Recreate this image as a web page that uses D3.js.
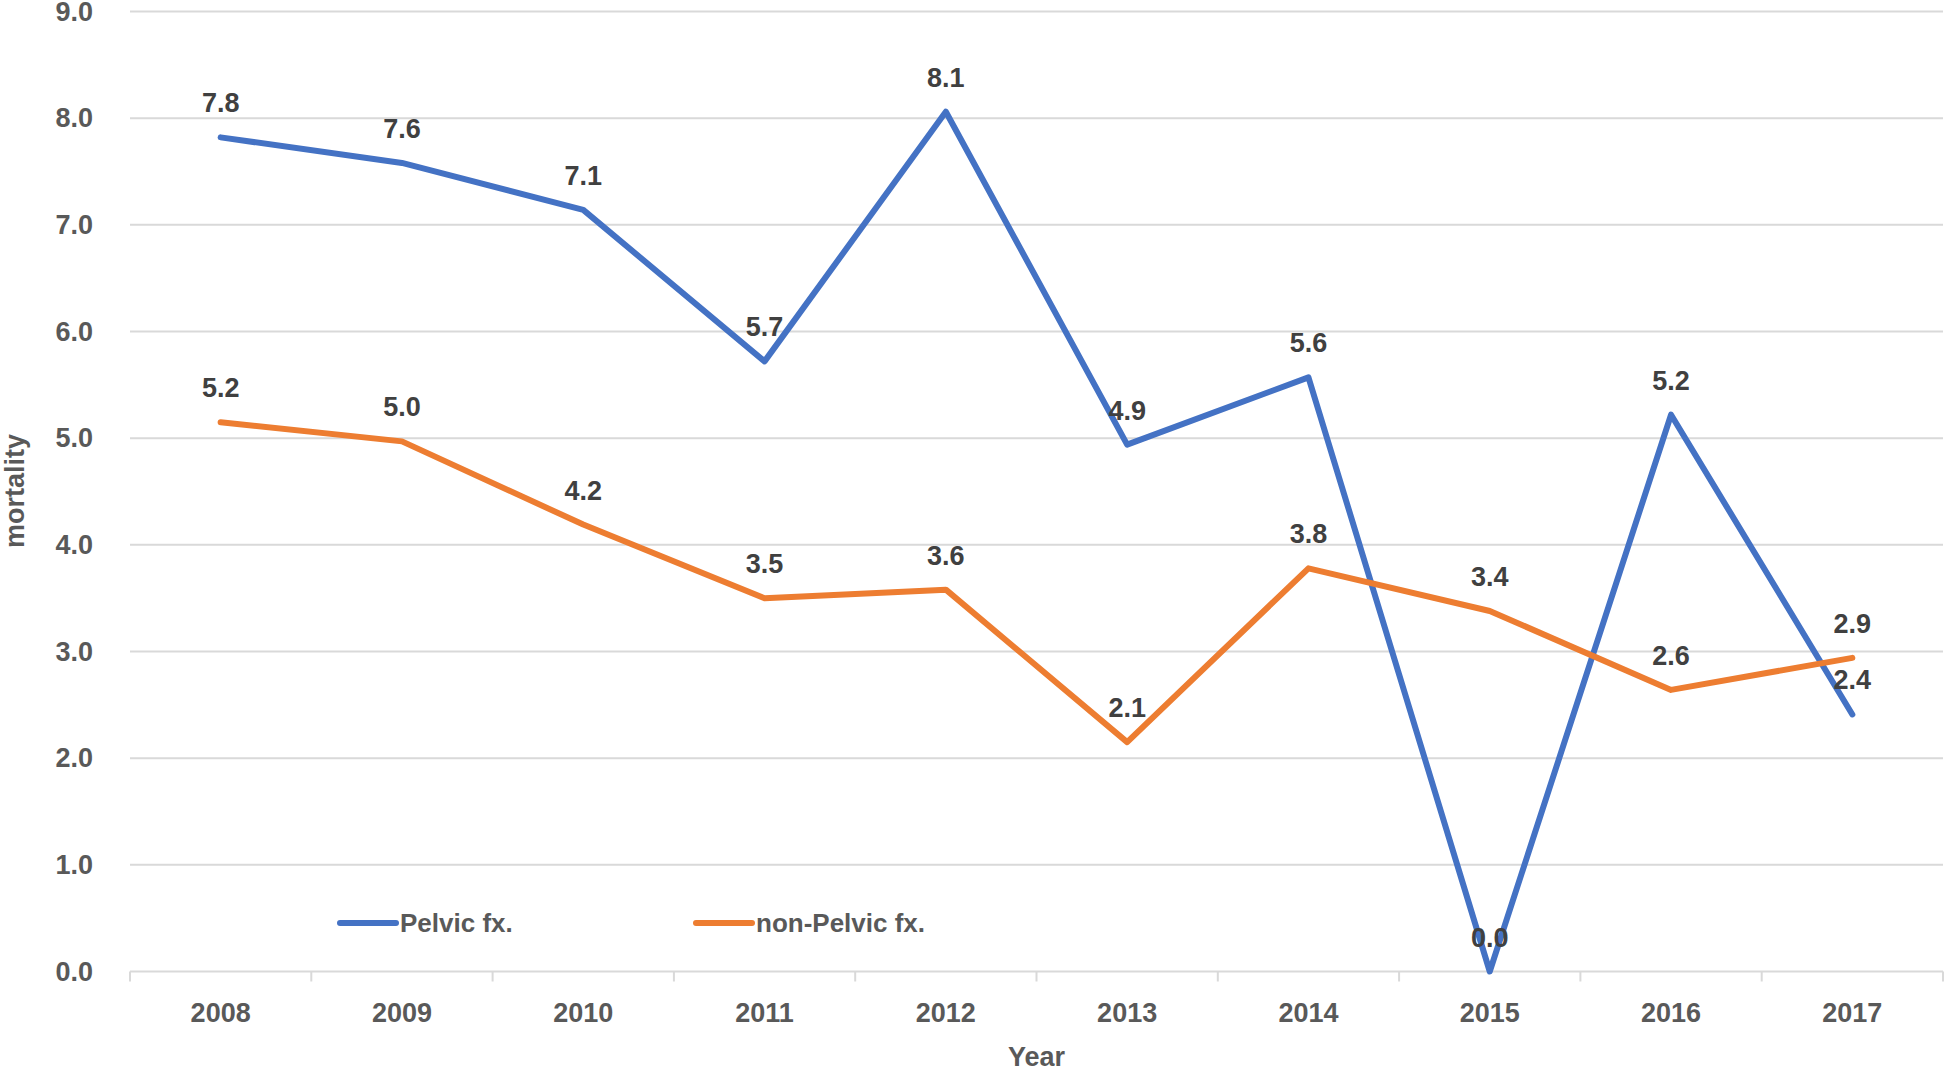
<!DOCTYPE html>
<html>
<head>
<meta charset="utf-8">
<script src="https://cdn.jsdelivr.net/npm/d3@7"></script>
<style>
  html, body { margin: 0; padding: 0; background: #fff; }
  svg { display: block; }
  text { font-family: "Liberation Sans", Arial, sans-serif; font-weight: bold; }
</style>
</head>
<body>
<script>
const years = ["2008","2009","2010","2011","2012","2013","2014","2015","2016","2017"];
const pelvic = [7.82, 7.58, 7.14, 5.72, 8.06, 4.94, 5.57, 0.0, 5.22, 2.41];
const nonPelvic = [5.15, 4.97, 4.19, 3.50, 3.58, 2.15, 3.78, 3.38, 2.64, 2.94];
const yTicks = [0,1,2,3,4,5,6,7,8,9];
const seriesNames = ["Pelvic fx.", "non-Pelvic fx."];
const seriesColors = ["#4472C4", "#ED7D31"];

(function () {
const W = 1945, H = 1068;
const mLeft = 130, mRight = 1943, mTop = 11.5, mBottom = 971.5;

const svg = d3.select("body").append("svg").attr("width", W).attr("height", H);

const x = d3.scaleBand().domain(years).range([mLeft, mRight]).padding(0);
const y = d3.scaleLinear().domain([0, 9]).range([mBottom, mTop]);

// gridlines
svg.append("g").selectAll("line").data(yTicks).join("line")
  .attr("x1", mLeft).attr("x2", mRight)
  .attr("y1", d => y(d)).attr("y2", d => y(d))
  .attr("stroke", "#d9d9d9").attr("stroke-width", 2);

// y tick labels
svg.append("g").selectAll("text").data(yTicks).join("text")
  .attr("x", 93).attr("y", d => y(d))
  .attr("text-anchor", "end").attr("dominant-baseline", "central")
  .attr("font-size", 27).attr("fill", "#595959")
  .text(d => d.toFixed(1));

// x axis tick marks at band boundaries
const bounds = years.map(d => x(d)).concat([x(years[years.length-1]) + x.bandwidth()]);
svg.append("g").selectAll("line").data(bounds).join("line")
  .attr("x1", d => d).attr("x2", d => d)
  .attr("y1", mBottom).attr("y2", mBottom + 10)
  .attr("stroke", "#d9d9d9").attr("stroke-width", 2);

// x tick labels
svg.append("g").selectAll("text").data(years).join("text")
  .attr("x", d => x(d) + x.bandwidth()/2).attr("y", 1022)
  .attr("text-anchor", "middle")
  .attr("font-size", 27).attr("fill", "#595959")
  .text(d => d);

// axis titles
svg.append("text").attr("x", (mLeft+mRight)/2).attr("y", 1066)
  .attr("text-anchor", "middle").attr("font-size", 27).attr("fill", "#595959")
  .text("Year");
svg.append("text")
  .attr("transform", `translate(24,${491}) rotate(-90)`)
  .attr("text-anchor", "middle").attr("font-size", 27).attr("fill", "#595959")
  .text("mortality");

const cx = d => x(d) + x.bandwidth()/2;
const line = d3.line().x(d => cx(d.year)).y(d => y(d.v));

const series = [pelvic, nonPelvic].map((vals, i) => ({
  name: seriesNames[i], color: seriesColors[i],
  pts: years.map((yr, j) => ({year: yr, v: vals[j]}))
}));

series.forEach(s => {
  svg.append("path").datum(s.pts)
    .attr("d", line).attr("fill", "none")
    .attr("stroke", s.color).attr("stroke-width", 6)
    .attr("stroke-linecap", "round").attr("stroke-linejoin", "round");
});

// data labels
series.forEach(s => {
  svg.append("g").selectAll("text").data(s.pts).join("text")
    .attr("x", d => cx(d.year)).attr("y", d => y(d.v) - 25)
    .attr("text-anchor", "middle").attr("font-size", 27).attr("fill", "#404040")
    .text(d => d.v.toFixed(1));
});

// legend
const legendPos = [340, 696];
series.forEach((s, i) => {
  const g = svg.append("g");
  g.append("line").attr("x1", legendPos[i]).attr("x2", legendPos[i] + 56)
    .attr("y1", 923).attr("y2", 923)
    .attr("stroke", s.color).attr("stroke-width", 6).attr("stroke-linecap", "round");
  g.append("text").attr("x", legendPos[i] + 60).attr("y", 923)
    .attr("dominant-baseline", "central").attr("font-size", 26).attr("fill", "#595959")
    .text(s.name);
});
})();
</script>
</body>
</html>
